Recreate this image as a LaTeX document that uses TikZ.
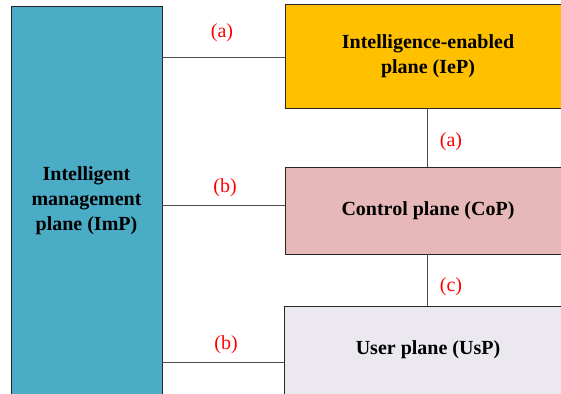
\documentclass[tikz,border=0pt]{standalone}
\usepackage{fontspec}
\setmainfont{Liberation Serif}
\begin{document}
\begin{tikzpicture}[x=1pt,y=-1pt,
  plane/.style={draw=black!85, line width=0.9pt, rectangle, inner sep=0pt, align=center,
    font=\fontsize{20}{25}\selectfont\bfseries},
  link/.style={draw=black!70, line width=1pt},
  lab/.style={text=red, font=\fontsize{20}{24}\selectfont, inner sep=0pt}]
\useasboundingbox (0,0) rectangle (561,393);
\clip (0,0) rectangle (561,393);
\definecolor{impc}{HTML}{4BACC6}
\definecolor{iepc}{HTML}{FFC000}
\definecolor{copc}{HTML}{E6B9B8}
\definecolor{uspc}{HTML}{EBE8F0}
\node[plane, fill=impc, minimum width=151, minimum height=390] (imp) at (86.5,201) {Intelligent\\management\\plane (ImP)};
\node[plane, fill=iepc, minimum width=286, minimum height=104] (iep) at (428,56) {Intelligence-enabled\\plane (IeP)};
\node[plane, fill=copc, minimum width=286, minimum height=87] (cop) at (428,210.5) {Control plane (CoP)};
\node[plane, fill=uspc, minimum width=288, minimum height=88] (usp) at (428,350) {User plane (UsP)};
\path ([yshift=-2]iep.west) coordinate (c1);
\path ([yshift=5.5]cop.west) coordinate (c2);
\path ([yshift=-12]usp.west) coordinate (c3);
\draw[link] (imp.east |- c1) -- (c1);
\draw[link] (imp.east |- c2) -- (c2);
\draw[link] (imp.east |- c3) -- (c3);
\draw[link] ([xshift=-1]iep.south) -- ([xshift=-1]cop.north);
\draw[link] ([xshift=-1]cop.south) -- ([xshift=-1]usp.north);
\node[lab] (la1) at (222,33) {(a)};
\node[lab] (lb1) at (225,188) {(b)};
\node[lab] (lb2) at (226,345) {(b)};
\node[lab] (la2) at (451,142) {(a)};
\node[lab] (lc) at (451,287) {(c)};
\end{tikzpicture}
\end{document}
